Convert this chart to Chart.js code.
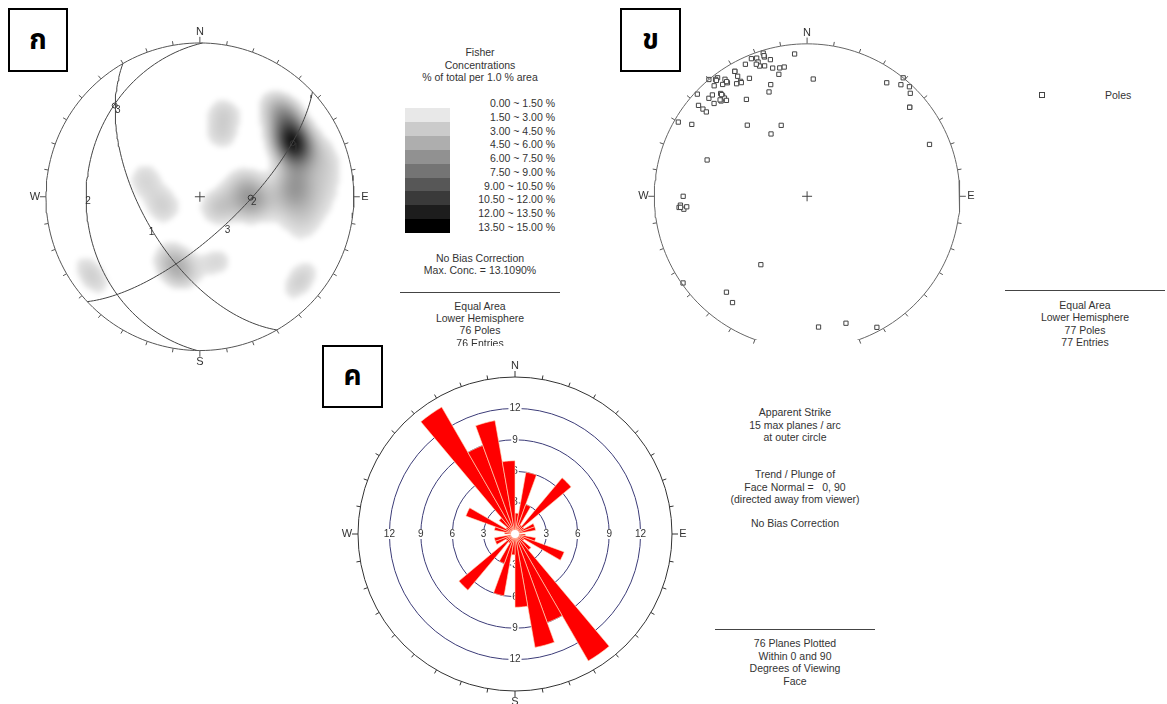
<!DOCTYPE html>
<html>
<head>
<meta charset="utf-8">
<title>Joint orientation stereonets</title>
<script src="https://cdn.jsdelivr.net/npm/chart.js@4.4.1/dist/chart.umd.min.js"></script>
<style>
  html, body { margin: 0; padding: 0; background: #fff; }
  body { position: relative; width: 1167px; height: 704px; overflow: hidden;
         font-family: "Liberation Sans", Arial, sans-serif; }
  canvas { position: absolute; }
  .t { position: absolute; font-size: 10.5px; line-height: 12px; color: #333; white-space: pre; }
  .c { transform: translate(-50%, -50%); }
  .r { transform: translate(-100%, -50%); }
  .l { transform: translate(0, -50%); }
  .rule { position: absolute; height: 0; border-top: 1px solid #444; }
  .swatch { position: absolute; }
  .tag { position: absolute; box-sizing: border-box; border: 2px solid #000; background: #fff;
         display: flex; align-items: center; justify-content: center;
         font: bold 28px "Noto Sans Thai", "Noto Serif Thai", "Loma", "Garuda", serif; }
  #clipA { position: absolute; left: 390px; top: 0; width: 180px; height: 346px; overflow: hidden; }
  #poleKey { position: absolute; left: 1039px; top: 92px; width: 4px; height: 4px; border: 1px solid #444; }
</style>
</head>
<body>
<canvas id="netA" width="390" height="376" style="left:0;top:0"></canvas>
<canvas id="netB" width="370" height="345" style="left:625px;top:0"></canvas>
<canvas id="rose" width="370" height="349" style="left:330px;top:355px"></canvas>
<div id="clipA"></div>
<div id="poleKey"></div>
<div class="tag" style="left:8px;top:8px;width:60px;height:64px">ก</div>
<div class="tag" style="left:620px;top:8px;width:61px;height:64px">ข</div>
<div class="tag" style="left:322px;top:345px;width:61px;height:63px">ค</div>
<script>
// ---------- data ----------
// panel ก: planes (dip direction / dip) drawn as great circles
const planeNames = ['1', '2', '3'];
const planeDipDir = [240, 271, 137];
const planeDip = [59, 27, 70];

// panel ก: Fisher concentration peaks of the 76 poles (summed)
const peakTrend  = [60, 45, 83, 92, 87, 72, 103, 96, 75, 121, 16, 19, 288, 255, 203, 193, 234, 165, 130];
const peakPlunge = [31, 24, 38, 45, 22, 15, 32, 62, 66, 79, 42, 55, 59, 70, 53, 46, 14, 54, 16];
const peakConc   = [11.5, 5.0, 3.8, 1.6, 1.9, 1.9, 2.0, 4.0, 2.6, 3.0, 2.4, 2.3, 2.3, 2.6, 3.4, 2.4, 2.8, 2.3, 2.8];
const peakKappa  = [55, 55, 55, 45, 35, 45, 40, 60, 55, 60, 70, 70, 60, 60, 60, 70, 60, 80, 60];

const fisherTitle = ['Fisher', 'Concentrations', '% of total per 1.0 % area'];
const fisherBands = ['0.00 ~ 1.50 %', '1.50 ~ 3.00 %', '3.00 ~ 4.50 %', '4.50 ~ 6.00 %', '6.00 ~ 7.50 %',
                     '7.50 ~ 9.00 %', '9.00 ~ 10.50 %', '10.50 ~ 12.00 %', '12.00 ~ 13.50 %', '13.50 ~ 15.00 %'];
const fisherNotes = ['No Bias Correction', 'Max. Conc. = 13.1090%'];
const netAFooter = ['Equal Area', 'Lower Hemisphere', '76 Poles', '76 Entries'];

// panel ข: 77 poles (trend / plunge)
const poleTrend = [355, 343, 343, 340, 338, 345, 340, 340, 342, 335, 345, 348, 350, 3, 330, 330, 334, 330, 347, 342,
                   340, 323, 322, 320, 320, 325, 323, 325, 328, 330, 313, 315, 317, 320, 320, 320, 320, 318, 315, 328,
                   310, 310, 310, 300, 302, 320, 340, 330, 290, 270, 266, 264, 265, 265, 214, 235, 220, 215, 175, 163,
                   152, 35, 39, 40, 43, 45, 49, 67, 339, 320, 318, 343, 330, 322, 265, 49, 325];
const polePlunge = [7, 2, 5, 4, 3, 8, 7, 10, 11, 5, 14, 15, 15, 24, 6, 10, 15, 14, 19, 24,
                    28, 3, 3, 0, 6, 7, 9, 10, 14, 15, 2, 10, 10, 13, 15, 17, 19, 17, 15, 26,
                    8, 12, 15, 3, 12, 39, 49, 51, 31, 20, 18, 20, 22, 17, 45, 1, 19, 16, 15, 14,
                    3, 10, 0, 5, 2, 5, 12, 14, 8, 14, 16, 4, 6, 4, 18, 12, 9];
const netBFooter = ['Equal Area', 'Lower Hemisphere', '77 Poles', '77 Entries'];

// panel ค: apparent strike counts per 10 degree arc, 0-10 ... 170-180
const strikeCounts = [2, 6, 3, 1, 7, 1, 2, 2, 0, 1, 2, 5, 1, 2, 14, 9, 11, 7];
const ringLabels = [3, 6, 9, 12];
const roseNotes = ['Apparent Strike', '15 max planes / arc', 'at outer circle'];
const faceNotes = ['Trend / Plunge of', 'Face Normal =   0, 90', '(directed away from viewer)'];
const roseBias = ['No Bias Correction'];
const roseFooter = ['76 Planes Plotted', 'Within 0 and 90', 'Degrees of Viewing', 'Face'];

const compass = ['N', 'E', 'S', 'W'];
const FONT = '"Liberation Sans", Arial, sans-serif';

// ---------- projection helpers (equal area, lower hemisphere) ----------
const D2R = Math.PI / 180;
function project(trend, plunge) {
  const r = Math.SQRT2 * Math.sin((90 - plunge) / 2 * D2R);
  return { x: r * Math.sin(trend * D2R), y: r * Math.cos(trend * D2R) };
}
function toVector(trend, plunge) {
  const t = trend * D2R, p = plunge * D2R;
  return [Math.cos(p) * Math.cos(t), Math.cos(p) * Math.sin(t), Math.sin(p)];
}
function fromNet(x, y) {
  const r = Math.hypot(x, y);
  const plunge = 90 - 2 * Math.asin(Math.min(1, r / Math.SQRT2)) / D2R;
  return toVector(Math.atan2(x, y) / D2R, plunge);
}
function greatCircle(dipDir, dip) {
  const s = (dipDir - 90) * D2R;
  const S = [Math.cos(s), Math.sin(s), 0];
  const Dv = toVector(dipDir, dip);
  const pts = [];
  for (let a = 0; a <= 180; a += 2) {
    const c = Math.cos(a * D2R), sn = Math.sin(a * D2R);
    const v = [c * S[0] + sn * Dv[0], c * S[1] + sn * Dv[1], c * S[2] + sn * Dv[2]];
    const plunge = Math.asin(Math.max(-1, Math.min(1, v[2]))) / D2R;
    pts.push(project(Math.atan2(v[1], v[0]) / D2R, plunge));
  }
  return pts;
}
const primitive = [];
for (let az = 0; az <= 360; az += 2) primitive.push(project(az, 0));

const peakVectors = peakTrend.map((t, i) => toVector(t, peakPlunge[i]));
function concentration(v) {
  let c = 0;
  peakVectors.forEach((u, i) => {
    const cos = Math.abs(u[0] * v[0] + u[1] * v[1] + u[2] * v[2]);
    c += peakConc[i] * Math.exp(peakKappa[i] * (cos - 1));
  });
  return c;
}
function greyLevel(conc) {
  if (conc < 1.5) return 255;
  return Math.round(Math.max(0, 232 - (conc - 1.5) / 12 * 232));
}

// ---------- drawing helpers ----------
function drawRim(ctx, cx, cy, R, color) {
  ctx.save();
  ctx.strokeStyle = color;
  ctx.lineWidth = 1;
  for (let az = 0; az < 360; az += 10) {
    const sx = Math.sin(az * D2R), sy = -Math.cos(az * D2R);
    const len = az % 90 === 0 ? 6 : 4;
    ctx.beginPath();
    ctx.moveTo(cx + sx * R, cy + sy * R);
    ctx.lineTo(cx + sx * (R + len), cy + sy * (R + len));
    ctx.stroke();
  }
  ctx.fillStyle = '#333';
  ctx.font = '11px ' + FONT;
  ctx.textAlign = 'center';
  ctx.textBaseline = 'middle';
  compass.forEach((c, i) => {
    const a = i * 90 * D2R;
    ctx.fillText(c, cx + Math.sin(a) * (R + 11), cy - Math.cos(a) * (R + 11));
  });
  ctx.restore();
}
function drawCross(ctx, cx, cy) {
  ctx.save();
  ctx.strokeStyle = '#444';
  ctx.beginPath();
  ctx.moveTo(cx - 5, cy); ctx.lineTo(cx + 5, cy);
  ctx.moveTo(cx, cy - 5); ctx.lineTo(cx, cy + 5);
  ctx.stroke();
  ctx.restore();
}

function netOptions(w, h, cx, cy, R) {
  return {
    responsive: false, animation: false, events: [],
    layout: { padding: 0 },
    plugins: { legend: { display: false }, tooltip: { enabled: false } },
    scales: {
      x: { type: 'linear', display: false, min: -cx / R, max: (w - cx) / R },
      y: { type: 'linear', display: false, min: -(h - cy) / R, max: cy / R }
    }
  };
}

// contoured pole density under the great circles
const densityLayer = {
  id: 'densityLayer',
  beforeDatasetsDraw(chart) {
    const { ctx, scales: { x, y } } = chart;
    const n = 130;
    const off = document.createElement('canvas');
    off.width = n; off.height = n;
    const octx = off.getContext('2d');
    const img = octx.createImageData(n, n);
    for (let j = 0; j < n; j++) {
      for (let i = 0; i < n; i++) {
        const nx = -1 + (i + 0.5) * 2 / n, ny = 1 - (j + 0.5) * 2 / n;
        if (nx * nx + ny * ny > 1.02) continue;
        img.data[(j * n + i) * 4 + 3] = 255 - greyLevel(concentration(fromNet(nx, ny)));
      }
    }
    octx.putImageData(img, 0, 0);
    const left = x.getPixelForValue(-1), right = x.getPixelForValue(1);
    const top = y.getPixelForValue(1), bottom = y.getPixelForValue(-1);
    const cx = x.getPixelForValue(0), cy = y.getPixelForValue(0);
    ctx.save();
    ctx.beginPath();
    ctx.arc(cx, cy, right - cx, 0, 2 * Math.PI);
    ctx.clip();
    ctx.imageSmoothingEnabled = true;
    ctx.filter = 'blur(2.5px)';
    ctx.drawImage(off, left, top, right - left, bottom - top);
    ctx.restore();
  }
};

const netFrame = {
  id: 'netFrame',
  afterDatasetsDraw(chart, args, opts) {
    const { ctx, scales: { x, y } } = chart;
    const cx = x.getPixelForValue(0), cy = y.getPixelForValue(0);
    drawRim(ctx, cx, cy, x.getPixelForValue(1) - cx, '#555');
    drawCross(ctx, cx, cy);
    if (!opts.planeLabels) return;
    ctx.save();
    ctx.fillStyle = '#333';
    ctx.font = '10px ' + FONT;
    ctx.textAlign = 'center';
    ctx.textBaseline = 'middle';
    planeNames.forEach((name, i) => {
      const d = project(planeDipDir[i], planeDip[i]);
      ctx.fillText(name, x.getPixelForValue(d.x) + 2, y.getPixelForValue(d.y) + 6);
      const p = project(planeDipDir[i] + 180, 90 - planeDip[i]);
      ctx.fillText(name, x.getPixelForValue(p.x) + 3, y.getPixelForValue(p.y) + 5);
    });
    ctx.restore();
  }
};

// ---------- panel ก ----------
const optionsA = netOptions(390, 376, 200, 197, 158);
optionsA.plugins.netFrame = { planeLabels: true };
new Chart(document.getElementById('netA'), {
  type: 'scatter',
  data: {
    datasets: [
      { data: primitive, showLine: true, pointRadius: 0, borderColor: '#555', borderWidth: 1 },
      ...planeDipDir.map((dd, i) => ({
        data: greatCircle(dd, planeDip[i]), showLine: true, pointRadius: 0, borderColor: '#444', borderWidth: 1
      })),
      {
        data: planeDipDir.map((dd, i) => project(dd + 180, 90 - planeDip[i])),
        pointRadius: 2.5, pointStyle: 'circle', borderColor: '#333', borderWidth: 1, backgroundColor: 'rgba(0,0,0,0)'
      }
    ]
  },
  options: optionsA,
  plugins: [densityLayer, netFrame]
});

// ---------- panel ข ----------
new Chart(document.getElementById('netB'), {
  type: 'scatter',
  data: {
    datasets: [
      { data: primitive, showLine: true, pointRadius: 0, borderColor: '#666', borderWidth: 1 },
      {
        data: poleTrend.map((t, i) => project(t, polePlunge[i])),
        pointStyle: 'rect', pointRadius: 3, borderColor: '#444', borderWidth: 1, backgroundColor: '#fff'
      }
    ]
  },
  options: netOptions(370, 345, 182, 197, 157),
  plugins: [netFrame]
});

// ---------- panel ค : rose of apparent strike ----------
const roseValues = strikeCounts.concat(strikeCounts);
const roseFrame = {
  id: 'roseFrame',
  beforeDatasetsDraw(chart) {
    const s = chart.scales.r, ctx = chart.ctx;
    ctx.save();
    ctx.font = '10px ' + FONT;
    ctx.textAlign = 'center';
    ctx.textBaseline = 'middle';
    ringLabels.forEach(v => {
      const d = s.getDistanceFromCenterForValue(v);
      const w = ctx.measureText(String(v)).width + 2;
      [[0, -d], [0, d], [-d, 0], [d, 0]].forEach(([dx, dy]) => {
        ctx.fillStyle = '#fff';
        ctx.fillRect(s.xCenter + dx - w / 2, s.yCenter + dy - 5, w, 10);
        ctx.fillStyle = '#333';
        ctx.fillText(String(v), s.xCenter + dx, s.yCenter + dy);
      });
    });
    ctx.restore();
  },
  afterDatasetsDraw(chart) {
    const s = chart.scales.r, ctx = chart.ctx;
    ctx.save();
    ctx.fillStyle = '#fff';
    ctx.beginPath();
    ctx.arc(s.xCenter, s.yCenter, 4, 0, 2 * Math.PI);
    ctx.fill();
    ctx.restore();
    drawRim(ctx, s.xCenter, s.yCenter, s.drawingArea, '#333');
  }
};
new Chart(document.getElementById('rose'), {
  type: 'polarArea',
  data: {
    labels: roseValues.map((_, i) => (i * 10) + '-' + (i * 10 + 10)),
    datasets: [{ data: roseValues, backgroundColor: '#ff0000', borderColor: '#ffe2c0', borderWidth: 0.6 }]
  },
  options: {
    responsive: false, animation: false, events: [],
    layout: { padding: { left: 28, right: 28, top: 22, bottom: 13 } },
    plugins: { legend: { display: false }, tooltip: { enabled: false } },
    scales: {
      r: {
        min: 0, max: 15,
        ticks: { stepSize: 3, display: false },
        grid: { circular: true, lineWidth: 1, color: c => (c.tick && c.tick.value === 15) ? '#333' : '#3c3c78' },
        angleLines: { display: false },
        pointLabels: { display: false }
      }
    }
  },
  plugins: [roseFrame]
});

// ---------- text blocks ----------
function put(parent, text, x, y, cls) {
  const d = document.createElement('div');
  d.className = 't ' + (cls || 'c');
  d.style.left = x + 'px';
  d.style.top = y + 'px';
  d.textContent = text;
  parent.appendChild(d);
}
function rule(parent, x1, x2, y) {
  const d = document.createElement('div');
  d.className = 'rule';
  d.style.left = x1 + 'px';
  d.style.top = y + 'px';
  d.style.width = (x2 - x1) + 'px';
  parent.appendChild(d);
}
const clipA = document.getElementById('clipA');
fisherTitle.forEach((s, i) => put(clipA, s, 90, 52 + i * 12.5));
fisherBands.forEach((s, i) => put(clipA, s, 165, 103 + i * 13.75, 'r'));
for (let k = 1; k < fisherBands.length; k++) {
  const sw = document.createElement('div');
  const g = greyLevel(1.5 * k);
  sw.className = 'swatch';
  sw.style.cssText = 'left:15px;width:45px;top:' + (108 + (k - 1) * 13.9) + 'px;height:14px;background:rgb(' + g + ',' + g + ',' + g + ')';
  clipA.appendChild(sw);
}
fisherNotes.forEach((s, i) => put(clipA, s, 90, 258 + i * 12));
rule(clipA, 10, 170, 292);
netAFooter.forEach((s, i) => put(clipA, s, 90, 306 + i * 12.2));

const body = document.body;
put(body, 'Poles', 1105, 95, 'l');
rule(body, 1005, 1165, 290);
netBFooter.forEach((s, i) => put(body, s, 1085, 305 + i * 12.3));

roseNotes.forEach((s, i) => put(body, s, 795, 412 + i * 12.5));
faceNotes.forEach((s, i) => put(body, s, 795, 474 + i * 12.5));
roseBias.forEach((s, i) => put(body, s, 795, 523 + i * 12.5));
rule(body, 715, 875, 629);
roseFooter.forEach((s, i) => put(body, s, 795, 643 + i * 12.5));
</script>
</body>
</html>
